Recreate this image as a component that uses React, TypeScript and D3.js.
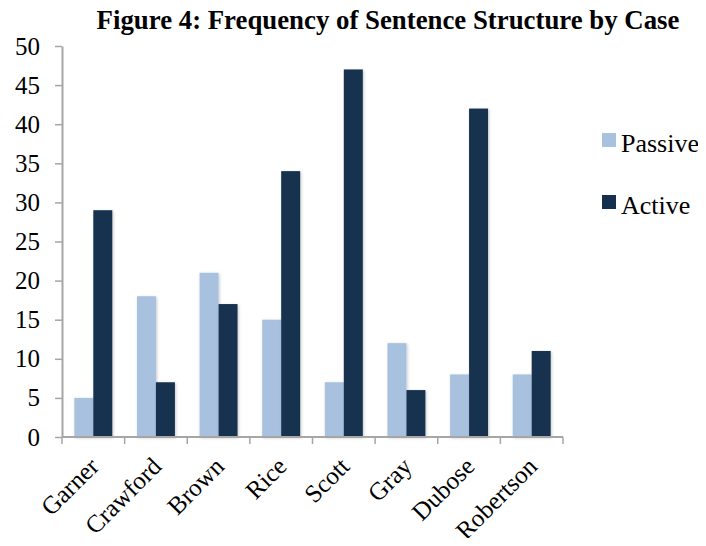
import React, { useEffect, useRef } from 'react';
import * as d3 from 'd3';

const cases = ['Garner', 'Crawford', 'Brown', 'Rice', 'Scott', 'Gray', 'Dubose', 'Robertson'];
const passive = [5, 18, 21, 15, 7, 12, 8, 8];
const active = [29, 7, 17, 34, 47, 6, 42, 11];
const seriesNames = ['Passive', 'Active'];
const seriesColors = ['#a7c1df', '#15304f'];
const yTicks = [0, 5, 10, 15, 20, 25, 30, 35, 40, 45, 50];

export default function App() {
  const svgRef = useRef<SVGSVGElement | null>(null);

  useEffect(() => {
    if (!svgRef.current) return;
    const svg = d3.select(svgRef.current);
    svg.selectAll('*').remove();

    const width = 706;
    const height = 546;
    const margin = { top: 46, right: 143, bottom: 109, left: 62 };
    const font = '"Liberation Serif", "Times New Roman", serif';
    const axisColor = '#a6a6a6';

    // subtle shadow like the original
    const defs = svg.append('defs');
    const filter = defs.append('filter').attr('id', 'shadow')
      .attr('x', '-30%').attr('y', '-10%').attr('width', '160%').attr('height', '120%');
    filter.append('feDropShadow')
      .attr('dx', 1).attr('dy', 1).attr('stdDeviation', 1.5)
      .attr('flood-color', '#000').attr('flood-opacity', 0.22);

    svg.append('rect').attr('width', width).attr('height', height).attr('fill', '#fff');

    const x = d3.scaleBand<string>()
      .domain(cases)
      .range([margin.left, width - margin.right])
      .paddingInner(0)
      .paddingOuter(0);

    const xInner = d3.scaleBand<string>()
      .domain(seriesNames)
      .range([0, x.bandwidth()])
      .paddingOuter(0.65)
      .paddingInner(0);

    const y = d3.scaleLinear()
      .domain([0, 50])
      .range([height - margin.bottom, margin.top]);

    // title
    svg.append('text')
      .attr('x', 388)
      .attr('y', 29)
      .attr('text-anchor', 'middle')
      .attr('font-family', font)
      .attr('font-weight', 'bold')
      .attr('font-size', 26.8)
      .attr('fill', '#000')
      .text('Figure 4: Frequency of Sentence Structure by Case');

    // bars
    const rows = cases.map((c, i) => ({ c, vals: [passive[i], active[i]] }));
    const groups = svg.append('g').selectAll('g')
      .data(rows)
      .join('g')
      .attr('transform', d => `translate(${x(d.c)},0)`);

    groups.selectAll('rect')
      .data(d => d.vals.map((v, k) => ({ name: seriesNames[k], v, k })))
      .join('rect')
      .attr('x', d => xInner(d.name)!)
      .attr('y', d => y(d.v))
      .attr('width', xInner.bandwidth())
      .attr('height', d => y(0) - y(d.v))
      .attr('fill', d => seriesColors[d.k])
      .attr('filter', 'url(#shadow)');

    // y axis
    const yAxis = svg.append('g')
      .attr('transform', `translate(${margin.left},0)`)
      .call(d3.axisLeft(y).tickValues(yTicks).tickSize(7).tickPadding(15).tickSizeOuter(0));
    yAxis.select('.domain').attr('stroke', axisColor).attr('stroke-width', 2);
    yAxis.selectAll('.tick line').attr('stroke', axisColor).attr('stroke-width', 1.5);
    yAxis.selectAll('.tick text')
      .attr('font-family', font)
      .attr('font-size', 25)
      .attr('fill', '#000');

    // x axis
    const xAxisG = svg.append('g')
      .attr('transform', `translate(0,${y(0)})`);
    xAxisG.append('line')
      .attr('x1', margin.left).attr('x2', width - margin.right)
      .attr('y1', 0).attr('y2', 0)
      .attr('stroke', axisColor).attr('stroke-width', 2);
    const bounds = cases.map(c => x(c)!).concat([width - margin.right]);
    xAxisG.selectAll('line.tk')
      .data(bounds)
      .join('line')
      .attr('class', 'tk')
      .attr('x1', d => d).attr('x2', d => d)
      .attr('y1', 0).attr('y2', 7)
      .attr('stroke', axisColor).attr('stroke-width', 1.5);

    xAxisG.selectAll('text')
      .data(cases)
      .join('text')
      .attr('transform', d => `translate(${x(d)! + x.bandwidth() / 2 + 7},${31}) rotate(-45)`)
      .attr('text-anchor', 'end')
      .attr('font-family', font)
      .attr('font-size', 25)
      .attr('fill', '#000')
      .text(d => d);

    // legend
    const legend = svg.append('g').attr('transform', 'translate(602,133)');
    seriesNames.forEach((name, i) => {
      const g = legend.append('g').attr('transform', `translate(0,${i * 62})`);
      g.append('rect').attr('width', 14).attr('height', 14).attr('fill', seriesColors[i]);
      g.append('text')
        .attr('x', 19).attr('y', 19)
        .attr('font-family', font)
        .attr('font-size', 26)
        .attr('fill', '#000')
        .text(name);
    });
  }, []);

  return <svg ref={svgRef} width={706} height={546} style={{ display: 'block', margin: '-8px' }}></svg>;
}
